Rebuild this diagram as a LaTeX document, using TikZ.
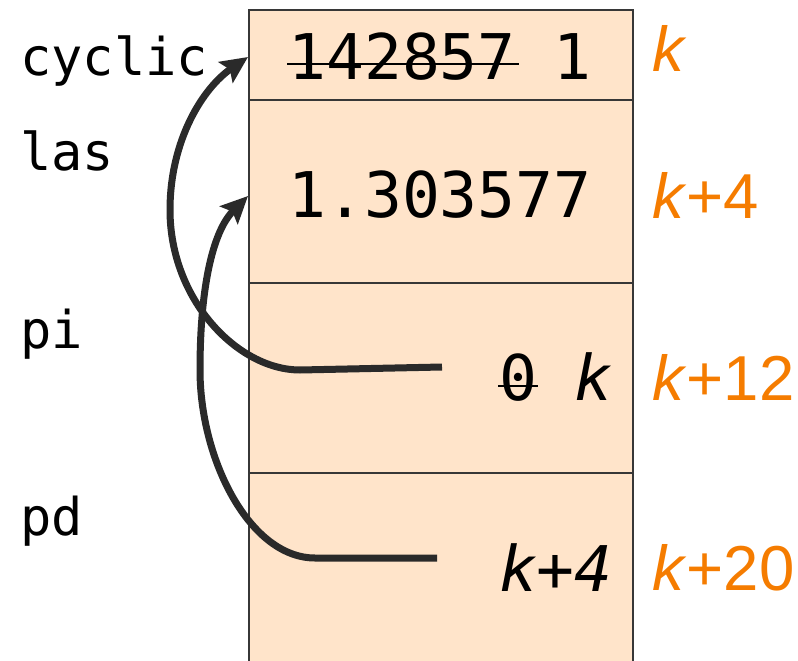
\documentclass[tikz,border=0pt]{standalone}
\usepackage{fontspec}
\usetikzlibrary{arrows.meta}
\newfontfamily\monof{DejaVu Sans Mono}
\newfontfamily\orafont{Liberation Sans}
\definecolor{cellfill}{RGB}{255,228,202}
\definecolor{orng}{RGB}{245,124,0}
\definecolor{ink}{RGB}{42,42,42}
\definecolor{edge}{RGB}{55,55,55}
\begin{document}
\begin{tikzpicture}[x=1pt,y=-1pt,
  cell/.style={draw=edge,line width=1.6pt,fill=cellfill,minimum width=384pt,inner sep=0pt,anchor=north west},
  lab/.style={inner sep=0pt,anchor=base west,font=\fontsize{52}{60}\selectfont\monof},
  val/.style={inner sep=0pt,anchor=base,font=\fontsize{63}{72}\selectfont\monof},
  off/.style={inner sep=0pt,anchor=base west,text=orng,font=\fontsize{63.5}{72}\selectfont\orafont},
  ptr/.style={draw=ink,line width=7pt,-{Stealth[length=27pt,width=25pt,inset=5pt]}}]
\useasboundingbox (0,0) rectangle (798,661);
\clip (0,0) rectangle (798,661);
% cells
\node[cell,minimum height=90pt]  (cyc) at (248,9) {};
\node[cell,minimum height=183pt] (lasc) at (248,99) {};
\node[cell,minimum height=190pt] (pic) at (248,282) {};
\node[cell,minimum height=230pt] (pdc) at (248,472) {};
% variable names
\node[lab] (ncyc) at (20,75) {cyclic};
\node[lab] (nlas) at (20,170) {las};
\node[lab] (npi) at (20,348) {pi};
\node[lab] (npd) at (20,535) {pd};
% values
\node[val] (v1) at (440,80) {\rlap{\hspace{-1pt}\rule[15pt]{232pt}{2.5pt}}142857 1};
\node[val] (v2) at (440,217) {1.303577};
\node[val,anchor=base east] (v3) at (613,400) {\rlap{\hspace{-1pt}\rule[13pt]{40pt}{2.5pt}}0 \textit{k}};
\node[val,anchor=base east] (v4) at (613,591) {\textit{k+4}};
% offsets
\node[off] (o1) at (652,72) {\textit{k}};
\node[off] (o2) at (652,218) {\textit{k}+4};
\node[off] (o3) at (652,400) {\textit{k}+12};
\node[off] (o4) at (652,590) {\textit{k}+20};
% pointers
\coordinate (pisrc) at (442,367);
\coordinate (pdsrc) at (437,558);
\coordinate (cyctip) at (248,57);
\coordinate (lastip) at (248,196);
\draw[ptr] (pisrc) -- (300,370) .. controls (238,370) and (170,300) .. (170,210) .. controls (170,140) and (203,88) .. (cyctip);
\draw[ptr] (pdsrc) -- (315,558) .. controls (250,558) and (200,460) .. (200,370) .. controls (200,290) and (212,232) .. (lastip);
\end{tikzpicture}
\end{document}
